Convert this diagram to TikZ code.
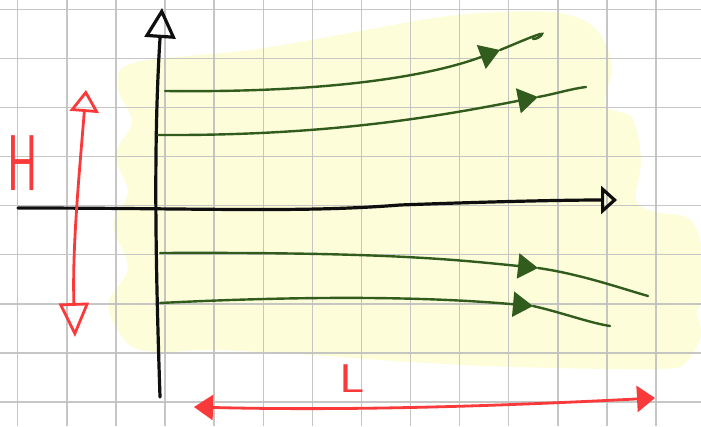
\documentclass[tikz,border=0pt]{standalone}
\usepackage{tikz}
\usetikzlibrary{arrows.meta,positioning,calc}
\definecolor{padyellow}{RGB}{253,253,218}
\definecolor{gridgray}{RGB}{192,192,192}
\definecolor{ink}{RGB}{15,15,15}
\definecolor{flowgreen}{RGB}{50,92,30}
\definecolor{penred}{RGB}{250,58,58}

\begin{document}
\begin{tikzpicture}[
	x=1pt, y=1pt,
	axisline/.style={line width=3.2pt, draw=ink, line cap=round},
	flow/.style={line width=2.4pt, draw=flowgreen, line cap=round},
	flowtip/.style={-{Triangle[length=20pt,width=25pt]}},
	dimline/.style={line width=2.8pt, draw=penred, line cap=round},
	penlabel/.style={text=penred, inner sep=0pt, font=\sffamily}
	]
	\useasboundingbox (0,0) rectangle (701,426);
	\fill[white] (0,0) rectangle (701,426);
	
	\fill[padyellow] plot[smooth cycle, tension=0.55] coordinates {
		(133,363) (250,376) (350,393) (433,408) (500,414) (560,413) (595,398)
		(612,361) (605,321) (632,308) (641,266) (636,226) (655,214) (688,208)
		(701,181) (701,126) (697,114) (701,91) (688,66) (662,57) (515,59)
		(410,64) (311,71) (213,76) (157,74) (127,83) (108,121) (128,158)
		(113,201) (128,234) (115,271) (132,304) (118,338)};
	
	\foreach \i in {0,...,13}
		\draw[gridgray, line width=1.4pt, opacity=0.9] ({17.7+49.1*\i},0) -- ({17.7+49.1*\i},426);
	\foreach \j in {0,...,8}
		\draw[gridgray, line width=1.4pt, opacity=0.9] (0,{416.7-49.1*\j}) -- (701,{416.7-49.1*\j});
	
	\coordinate (vbot) at (160,29);
	\coordinate (vtop) at (162,418);
	\coordinate (hleft) at (18,218);
	\coordinate (hright) at (617,226);
	
	\coordinate (f1s) at (165,335);
	\coordinate (f1t) at (500,376);
	\coordinate (f1e) at (540,392);
	\coordinate (f2s) at (158,291);
	\coordinate (f2t) at (538,329);
	\coordinate (f2e) at (586,339);
	\coordinate (f3s) at (160,173);
	\coordinate (f3t) at (538,158);
	\coordinate (f3e) at (648,130);
	\coordinate (f4s) at (160,123);
	\coordinate (f4t) at (533,120);
	\coordinate (f4e) at (610,100);
	
	\coordinate (hbot) at (75,89);
	\coordinate (htop) at (86,336);
	\coordinate (lleft) at (194,19);
	\coordinate (lright) at (655,28);
	
	\draw[axisline, -{Triangle[open,length=30pt,width=31pt]}] (vbot) .. controls (156,150) and (153,280) .. (vtop);
	\draw[axisline, -{Triangle[open,length=16pt,width=28pt]}] (hleft) .. controls (200,218) and (300,213) .. (400,221) .. controls (480,224) and (560,226) .. (hright);
	
	\draw[flow, flowtip] (f1s) .. controls (330,333) and (430,350) .. (f1t);
	\draw[flow] (f1t) .. controls (515,382) and (528,388) .. (f1e) .. controls (545,394) and (540,387) .. (533,387);
	\draw[flow, flowtip] (f2s) .. controls (330,290) and (440,310) .. (f2t);
	\draw[flow] (f2t) .. controls (555,332) and (570,337) .. (f2e);
	\draw[flow, flowtip] (f3s) .. controls (380,174) and (450,167) .. (f3t);
	\draw[flow] (f3t) .. controls (580,152) and (620,138) .. (f3e);
	\draw[flow, flowtip] (f4s) .. controls (300,130) and (420,130) .. (f4t);
	\draw[flow] (f4t) .. controls (560,114) and (590,103) .. (f4e);
	
	\draw[dimline, {Triangle[open,length=34pt,width=30pt]}-{Triangle[open,length=22pt,width=29pt]}] (hbot) .. controls (72,180) and (80,260) .. (htop);
	\draw[dimline, {Triangle[length=19pt,width=25pt]}-{Triangle[length=18pt,width=26pt]}] (lleft) .. controls (350,15) and (500,20) .. (lright);
	
	\node (hlabel) [penlabel, font=\sffamily\fontsize{79}{79}\selectfont, xscale=0.58] at (23,263) {H};
	\node (llabel) [penlabel, font=\sffamily\fontsize{40}{40}\selectfont, xscale=1.25] at (352,379-332) {L};
\end{tikzpicture}
\end{document}
